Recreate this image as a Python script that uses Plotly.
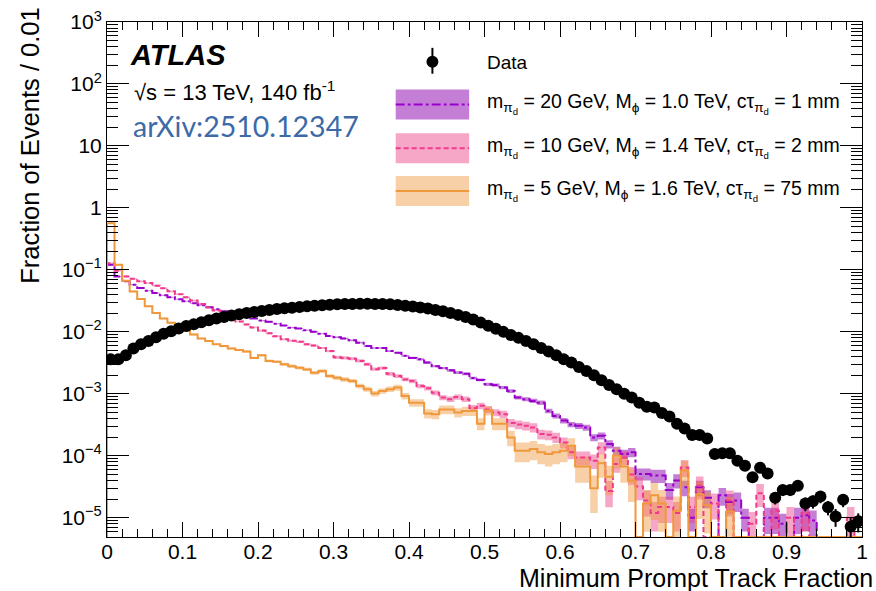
import plotly.graph_objects as go

# ---------------- data (fraction of events per 0.01 bin) ----------------
bin_width = 0.01
n_bins = 100

data_vals = [
    3.6e-3, 3.6e-3, 4.2e-3, 5.4e-3, 6.3e-3, 7.1e-3, 8.2e-3, 9.3e-3, 1.02e-2, 1.13e-2,
    1.24e-2, 1.33e-2, 1.43e-2, 1.54e-2, 1.64e-2, 1.74e-2, 1.83e-2, 1.93e-2, 2.02e-2, 2.10e-2,
    2.18e-2, 2.26e-2, 2.34e-2, 2.40e-2, 2.45e-2, 2.52e-2, 2.59e-2, 2.65e-2, 2.69e-2, 2.75e-2,
    2.79e-2, 2.82e-2, 2.82e-2, 2.83e-2, 2.84e-2, 2.82e-2, 2.81e-2, 2.79e-2, 2.72e-2, 2.65e-2,
    2.56e-2, 2.47e-2, 2.38e-2, 2.26e-2, 2.15e-2, 2.02e-2, 1.88e-2, 1.74e-2, 1.58e-2, 1.41e-2,
    1.25e-2, 1.12e-2, 1.00e-2, 8.9e-3, 8.0e-3, 7.1e-3, 6.3e-3, 5.5e-3, 4.8e-3, 4.2e-3,
    3.6e-3, 3.2e-3, 2.7e-3, 2.33e-3, 2.0e-3, 1.66e-3, 1.39e-3, 1.19e-3, 1.0e-3, 8.7e-4,
    7.2e-4, 6.2e-4, 6.0e-4, 4.9e-4, 4.3e-4, 3.3e-4, 2.76e-4, 2.16e-4, 2.16e-4, 1.9e-4,
    1.07e-4, 1.1e-4, 1.1e-4, 8.3e-5, 6.9e-5, 4.5e-5, 6.4e-5, 5.2e-5, 2.1e-5, 2.8e-5,
    2.8e-5, 3.3e-5, 1.7e-5, 1.85e-5, 2.2e-5, 1.48e-5, 1.05e-5, 1.95e-5, 7.2e-6, 8.8e-6,
]
data_rel_err = [
    0.005, 0.005, 0.005, 0.005, 0.005, 0.005, 0.005, 0.005, 0.005, 0.005,
    0.005, 0.005, 0.005, 0.005, 0.005, 0.005, 0.005, 0.005, 0.005, 0.005,
    0.005, 0.005, 0.005, 0.005, 0.005, 0.005, 0.005, 0.005, 0.005, 0.005,
    0.005, 0.005, 0.005, 0.005, 0.005, 0.005, 0.005, 0.005, 0.005, 0.005,
    0.005, 0.005, 0.005, 0.005, 0.005, 0.005, 0.005, 0.005, 0.005, 0.005,
    0.005, 0.005, 0.005, 0.005, 0.005, 0.005, 0.005, 0.005, 0.005, 0.005,
    0.01, 0.01, 0.01, 0.01, 0.01, 0.01, 0.01, 0.01, 0.01, 0.01,
    0.03, 0.03, 0.03, 0.03, 0.03, 0.04, 0.04, 0.05, 0.05, 0.05,
    0.10, 0.10, 0.10, 0.12, 0.12, 0.15, 0.12, 0.14, 0.22, 0.20,
    0.20, 0.18, 0.25, 0.24, 0.22, 0.26, 0.32, 0.24, 0.38, 0.34,
]

# m=20 GeV, M=1.0 TeV, ctau=1 mm (purple, dash-dot)
purple_vals = [
    0.121, 0.0785, 0.0653, 0.0578, 0.0511, 0.0462, 0.0424, 0.0389, 0.0361, 0.0336,
    0.0312, 0.0289, 0.0269, 0.0249, 0.0232, 0.0215, 0.0200, 0.0191, 0.0179, 0.0164,
    0.0152, 0.0145, 0.0135, 0.0127, 0.0117, 0.0113, 0.0106, 0.0100, 0.0093, 0.0086,
    0.0082, 0.0078, 0.0073, 0.0067, 0.0059, 0.0055, 0.0055, 0.0049, 0.0046, 0.0041,
    0.0038, 0.0036, 0.0032, 0.0028, 0.0026, 0.0024, 0.0022, 0.0021, 0.0018, 0.00168,
    0.00143, 0.00139, 0.00126, 0.00111, 8.7e-4, 8.2e-4, 7.7e-4, 7.2e-4, 5.3e-4, 4.4e-4,
    3.7e-4, 3.2e-4, 3.05e-4, 2.86e-4, 1.98e-4, 2.1e-4, 1.55e-4, 1.21e-4, 1.07e-4, 1.14e-4,
    5.1e-5, 5.1e-5, 4.8e-5, 4.8e-5, 2.8e-5, 4.0e-5, 3.1e-5, 1.0e-5, 3.1e-5, 2.1e-5,
    0.0, 2.3e-5, 1.8e-5, 1.9e-5, 1.0e-5, 0.0, 0.0, 1.0e-5, 1.0e-5, 8.0e-6,
    0.0, 1.0e-5, 1.1e-5, 9.0e-6, 0.0, 0.0, 0.0, 0.0, 0.0, 0.0,
]
purple_rel_err = [
    0.02, 0.02, 0.02, 0.02, 0.02, 0.02, 0.02, 0.02, 0.02, 0.02,
    0.02, 0.02, 0.02, 0.02, 0.02, 0.02, 0.02, 0.02, 0.02, 0.02,
    0.02, 0.02, 0.02, 0.02, 0.02, 0.02, 0.02, 0.02, 0.02, 0.02,
    0.03, 0.03, 0.03, 0.03, 0.03, 0.03, 0.03, 0.03, 0.03, 0.03,
    0.04, 0.04, 0.04, 0.04, 0.04, 0.05, 0.05, 0.05, 0.05, 0.05,
    0.06, 0.06, 0.06, 0.07, 0.07, 0.07, 0.08, 0.08, 0.08, 0.09,
    0.10, 0.10, 0.11, 0.11, 0.13, 0.13, 0.15, 0.16, 0.17, 0.17,
    0.22, 0.22, 0.24, 0.24, 0.30, 0.26, 0.28, 0.40, 0.28, 0.32,
    0.0, 0.32, 0.35, 0.35, 0.40, 0.0, 0.0, 0.45, 0.45, 0.45,
    0.0, 0.45, 0.45, 0.45, 0.0, 0.0, 0.0, 0.0, 0.0, 0.0,
]

# m=10 GeV, M=1.4 TeV, ctau=2 mm (pink, dashed)
pink_vals = [
    0.128, 0.097, 0.0785, 0.0721, 0.0653, 0.0614, 0.0557, 0.0505, 0.0451, 0.0404,
    0.0361, 0.0320, 0.0282, 0.0249, 0.0221, 0.0191, 0.0164, 0.0147, 0.0132, 0.0118,
    0.0105, 0.0095, 0.0085, 0.0076, 0.0072, 0.0069, 0.0063, 0.0060, 0.0055, 0.0049,
    0.0039, 0.0038, 0.0037, 0.0034, 0.0030, 0.0025, 0.0026, 0.0021, 0.00194, 0.00171,
    0.00161, 0.00134, 0.00123, 0.00104, 8.7e-4, 8.2e-4, 8.9e-4, 8.2e-4, 5.9e-4, 6.4e-4,
    5.6e-4, 5.0e-4, 4.7e-4, 3.4e-4, 3.2e-4, 3.05e-4, 2.86e-4, 2.24e-4, 2.18e-4, 1.98e-4,
    1.64e-4, 1.14e-4, 9.4e-5, 9.4e-5, 8.3e-5, 1.36e-4, 2.7e-5, 7.4e-5, 9.4e-5, 5.0e-5,
    3.2e-5, 1.9e-5, 1.2e-5, 1.5e-5, 1.5e-5, 1.2e-5, 6.5e-5, 1.5e-5, 3.3e-5, 0.0,
    1.7e-5, 0.0, 1.9e-5, 0.0, 0.0, 8.0e-6, 2.5e-5, 0.0, 1.3e-5, 0.0,
    1.0e-5, 0.0, 1.2e-5, 0.0, 0.0, 0.0, 0.0, 0.0, 1.0e-5, 0.0,
]
pink_rel_err = [
    0.03, 0.03, 0.03, 0.03, 0.03, 0.03, 0.03, 0.03, 0.03, 0.03,
    0.03, 0.03, 0.03, 0.03, 0.03, 0.03, 0.03, 0.03, 0.03, 0.03,
    0.04, 0.04, 0.04, 0.04, 0.04, 0.04, 0.04, 0.04, 0.04, 0.04,
    0.06, 0.06, 0.06, 0.06, 0.06, 0.06, 0.06, 0.07, 0.07, 0.07,
    0.08, 0.08, 0.08, 0.09, 0.09, 0.10, 0.10, 0.10, 0.12, 0.12,
    0.13, 0.13, 0.14, 0.15, 0.16, 0.16, 0.17, 0.18, 0.18, 0.19,
    0.20, 0.23, 0.25, 0.25, 0.26, 0.22, 0.45, 0.28, 0.25, 0.32,
    0.40, 0.45, 0.50, 0.45, 0.45, 0.50, 0.30, 0.45, 0.40, 0.0,
    0.45, 0.0, 0.45, 0.0, 0.0, 0.55, 0.40, 0.0, 0.50, 0.0,
    0.50, 0.0, 0.50, 0.0, 0.0, 0.0, 0.0, 0.0, 0.50, 0.0,
]

# m=5 GeV, M=1.6 TeV, ctau=75 mm (orange, solid)
orange_vals = [
    0.565, 0.121, 0.067, 0.045, 0.034, 0.0259, 0.0202, 0.0164, 0.0140, 0.0119,
    0.0105, 0.0091, 0.0078, 0.0071, 0.0063, 0.0059, 0.0054, 0.0051, 0.0048, 0.0038,
    0.0042, 0.0034, 0.0033, 0.0030, 0.0028, 0.00264, 0.00248, 0.00219, 0.00233, 0.00194,
    0.00182, 0.00171, 0.00161, 0.00134, 0.00119, 0.00101, 0.00111, 0.00119, 0.00126, 9.2e-4,
    7.2e-4, 7.2e-4, 4.8e-4, 4.7e-4, 5.6e-4, 5.6e-4, 5.0e-4, 5.3e-4, 5.3e-4, 3.3e-4,
    5.4e-4, 3.3e-4, 3.3e-4, 1.98e-4, 1.21e-4, 1.21e-4, 1.29e-4, 1.14e-4, 1.07e-4, 1.14e-4,
    1.21e-4, 1.45e-4, 6.7e-5, 6.7e-5, 3.0e-5, 7.6e-5, 4.6e-5, 1.0e-4, 6.7e-5, 4.0e-5,
    0.0, 1.7e-5, 2.3e-5, 1.7e-5, 0.0, 1.3e-5, 5.8e-5, 0.0, 2.4e-5, 1.6e-5,
    0.0, 0.0, 1.26e-5, 0.0, 0.0, 0.0, 0.0, 0.0, 0.0, 0.0,
    0.0, 0.0, 0.0, 0.0, 0.0, 0.0, 0.0, 0.0, 0.0, 0.0,
]
orange_rel_err = [
    0.02, 0.03, 0.03, 0.03, 0.03, 0.03, 0.03, 0.03, 0.03, 0.03,
    0.03, 0.03, 0.03, 0.03, 0.03, 0.04, 0.04, 0.04, 0.04, 0.04,
    0.05, 0.05, 0.05, 0.06, 0.06, 0.06, 0.06, 0.07, 0.07, 0.07,
    0.08, 0.08, 0.08, 0.09, 0.09, 0.10, 0.10, 0.10, 0.11, 0.12,
    0.14, 0.14, 0.17, 0.17, 0.16, 0.16, 0.17, 0.17, 0.17, 0.22,
    0.17, 0.22, 0.22, 0.28, 0.35, 0.35, 0.34, 0.36, 0.37, 0.36,
    0.35, 0.32, 0.45, 0.45, 0.60, 0.42, 0.50, 0.38, 0.45, 0.55,
    0.0, 0.65, 0.60, 0.65, 0.0, 0.70, 0.45, 0.0, 0.60, 0.65,
    0.0, 0.0, 0.70, 0.0, 0.0, 0.0, 0.0, 0.0, 0.0, 0.0,
    0.0, 0.0, 0.0, 0.0, 0.0, 0.0, 0.0, 0.0, 0.0, 0.0,
]

y_tick_vals = [1e3, 1e2, 10, 1, 1e-1, 1e-2, 1e-3, 1e-4, 1e-5]
y_tick_text = ["10<sup>3</sup>", "10<sup>2</sup>", "10", "1", "10<sup>−1</sup>",
               "10<sup>−2</sup>", "10<sup>−3</sup>", "10<sup>−4</sup>", "10<sup>−5</sup>"]
x_tick_vals = [0, 0.1, 0.2, 0.3, 0.4, 0.5, 0.6, 0.7, 0.8, 0.9, 1.0]
x_tick_text = ["0", "0.1", "0.2", "0.3", "0.4", "0.5", "0.6", "0.7", "0.8", "0.9", "1"]

legend_labels = [
    "m<sub>π<sub>d</sub></sub> = 20 GeV, M<sub>ϕ</sub> = 1.0 TeV, cτ<sub>π<sub>d</sub></sub> = 1 mm",
    "m<sub>π<sub>d</sub></sub> = 10 GeV, M<sub>ϕ</sub> = 1.4 TeV, cτ<sub>π<sub>d</sub></sub> = 2 mm",
    "m<sub>π<sub>d</sub></sub> = 5 GeV, M<sub>ϕ</sub> = 1.6 TeV, cτ<sub>π<sub>d</sub></sub> = 75 mm",
]

# ---------------- styling ----------------
FONT = "Liberation Sans"
W, H = 876, 591
ML, MR, MT, MB = 107, 8, 19, 54
Y_LOG_MIN, Y_LOG_MAX = -5.31, 3.0
Y_FLOOR = 10 ** Y_LOG_MIN

series = [
    dict(vals=purple_vals, err=purple_rel_err, line="#9a00cc", dash="dashdot",
         band="rgba(150,20,180,0.55)"),
    dict(vals=pink_vals, err=pink_rel_err, line="#f03a8c", dash="5px,3px",
         band="rgba(235,60,130,0.45)"),
    dict(vals=orange_vals, err=orange_rel_err, line="#f0983c", dash="solid",
         band="rgba(240,150,60,0.45)"),
]

edges = [round(i * bin_width, 4) for i in range(n_bins + 1)]
centers = [round((i + 0.5) * bin_width, 4) for i in range(n_bins)]

fig = go.Figure()

# uncertainty bands (one rectangle per non-empty bin)
for s in series:
    bx, by = [], []
    for i, (v, r) in enumerate(zip(s["vals"], s["err"])):
        if v <= 0:
            continue
        lo = max(v * (1 - r), Y_FLOOR)
        hi = v * (1 + r)
        bx += [edges[i], edges[i + 1], edges[i + 1], edges[i], edges[i], None]
        by += [lo, lo, hi, hi, lo, None]
    fig.add_trace(go.Scatter(x=bx, y=by, mode="lines", fill="toself",
                             fillcolor=s["band"], line=dict(width=0),
                             hoverinfo="skip", showlegend=False))

# step histograms
for s in series:
    ys = [Y_FLOOR] + [v if v > 0 else Y_FLOOR for v in s["vals"]] + [Y_FLOOR]
    xs = [edges[0]] + edges[:n_bins] + [edges[n_bins]]
    fig.add_trace(go.Scatter(x=xs, y=ys, mode="lines", line_shape="hv",
                             line=dict(color=s["line"], width=2, dash=s["dash"]),
                             hoverinfo="skip", showlegend=False))

# data
fig.add_trace(go.Scatter(
    x=centers, y=data_vals, mode="markers",
    marker=dict(color="black", size=12),
    error_y=dict(type="data", symmetric=True,
                 array=[v * r for v, r in zip(data_vals, data_rel_err)],
                 color="black", thickness=2, width=0),
    showlegend=False))

# minor tick positions
y_minor = []
for e in range(-6, 3):
    for m in range(2, 10):
        y_minor.append(m * 10 ** e)

fig.update_xaxes(range=[0, 1], tickvals=x_tick_vals, ticktext=x_tick_text,
                 ticks="inside", ticklen=15, tickwidth=1, tickcolor="black",
                 showline=True, linecolor="black", linewidth=1, mirror="allticks",
                 showgrid=False, zeroline=False, ticklabelstandoff=-4,
                 tickfont=dict(family=FONT, size=21, color="black"),
                 minor=dict(tickmode="array",
                            tickvals=[round(0.02 * k, 3) for k in range(51)],
                            ticks="inside", ticklen=8, tickcolor="black", tickwidth=1))
fig.update_yaxes(type="log", range=[Y_LOG_MIN, Y_LOG_MAX],
                 tickvals=y_tick_vals, ticktext=y_tick_text,
                 ticks="inside", ticklen=22, tickwidth=1, tickcolor="black",
                 showline=True, linecolor="black", linewidth=1, mirror="allticks",
                 showgrid=False, zeroline=False,
                 tickfont=dict(family=FONT, size=21, color="black"),
                 minor=dict(tickmode="array", tickvals=y_minor,
                            ticks="inside", ticklen=11, tickcolor="black", tickwidth=1))


def px(xp):
    return (xp - ML) / (W - ML - MR)


def py(yp):
    return (H - MB - yp) / (H - MT - MB)


ann = []
ann.append(dict(text="<b><i>ATLAS</i></b>", x=px(128), y=py(52), xanchor="left",
                yanchor="middle", font=dict(family=FONT, size=29, color="black")))
ann.append(dict(text="√s = 13 TeV, 140 fb<sup>-1</sup>", x=px(132), y=py(88),
                xanchor="left", yanchor="middle",
                font=dict(family=FONT, size=22, color="black")))
ann.append(dict(text="arXiv:2510.12347", x=px(131), y=py(124), xanchor="left",
                yanchor="middle", font=dict(family="Lato", size=28.5, color="#3d6aa7")))
ann.append(dict(text="Minimum Prompt Track Fraction", x=px(881), y=py(578),
                xanchor="right", yanchor="middle",
                font=dict(family=FONT, size=25, color="black")))
ann.append(dict(text="Fraction of Events / 0.01", x=px(29), y=py(3), textangle=-90,
                xanchor="center", yanchor="top",
                font=dict(family=FONT, size=25.5, color="black")))
ann.append(dict(text="Data", x=px(488), y=py(60), xanchor="left", yanchor="middle",
                font=dict(family=FONT, size=19, color="black")))

shapes = []
# data legend marker
shapes.append(dict(type="line", xref="paper", yref="paper", x0=px(435), x1=px(435),
                   y0=py(45), y1=py(71), line=dict(color="black", width=2)))
shapes.append(dict(type="circle", xref="paper", yref="paper",
                   x0=px(429), x1=px(441), y0=py(53), y1=py(65),
                   fillcolor="black", line=dict(color="black", width=0)))
box_tops = [87, 131, 174]
for s, top, lab in zip(series, box_tops, legend_labels):
    shapes.append(dict(type="rect", xref="paper", yref="paper",
                       x0=px(398), x1=px(472), y0=py(top), y1=py(top + 30),
                       fillcolor=s["band"], line=dict(width=0)))
    shapes.append(dict(type="line", xref="paper", yref="paper",
                       x0=px(398), x1=px(472), y0=py(top + 15), y1=py(top + 15),
                       line=dict(color=s["line"], width=2, dash=s["dash"])))
    ann.append(dict(text=lab, x=px(488), y=py(top + 14), xanchor="left",
                    yanchor="middle", font=dict(family=FONT, size=19.5, color="black")))

for a in ann:
    a.setdefault("xref", "paper")
    a.setdefault("yref", "paper")
    a["showarrow"] = False

fig.update_layout(width=W, height=H,
                  margin=dict(l=ML, r=MR, t=MT, b=MB),
                  paper_bgcolor="white", plot_bgcolor="white",
                  annotations=ann, shapes=shapes, showlegend=False)

fig.write_html("out.html", config={"displayModeBar": False},
               post_script="document.body.style.margin='0px';document.body.style.padding='0px';")
